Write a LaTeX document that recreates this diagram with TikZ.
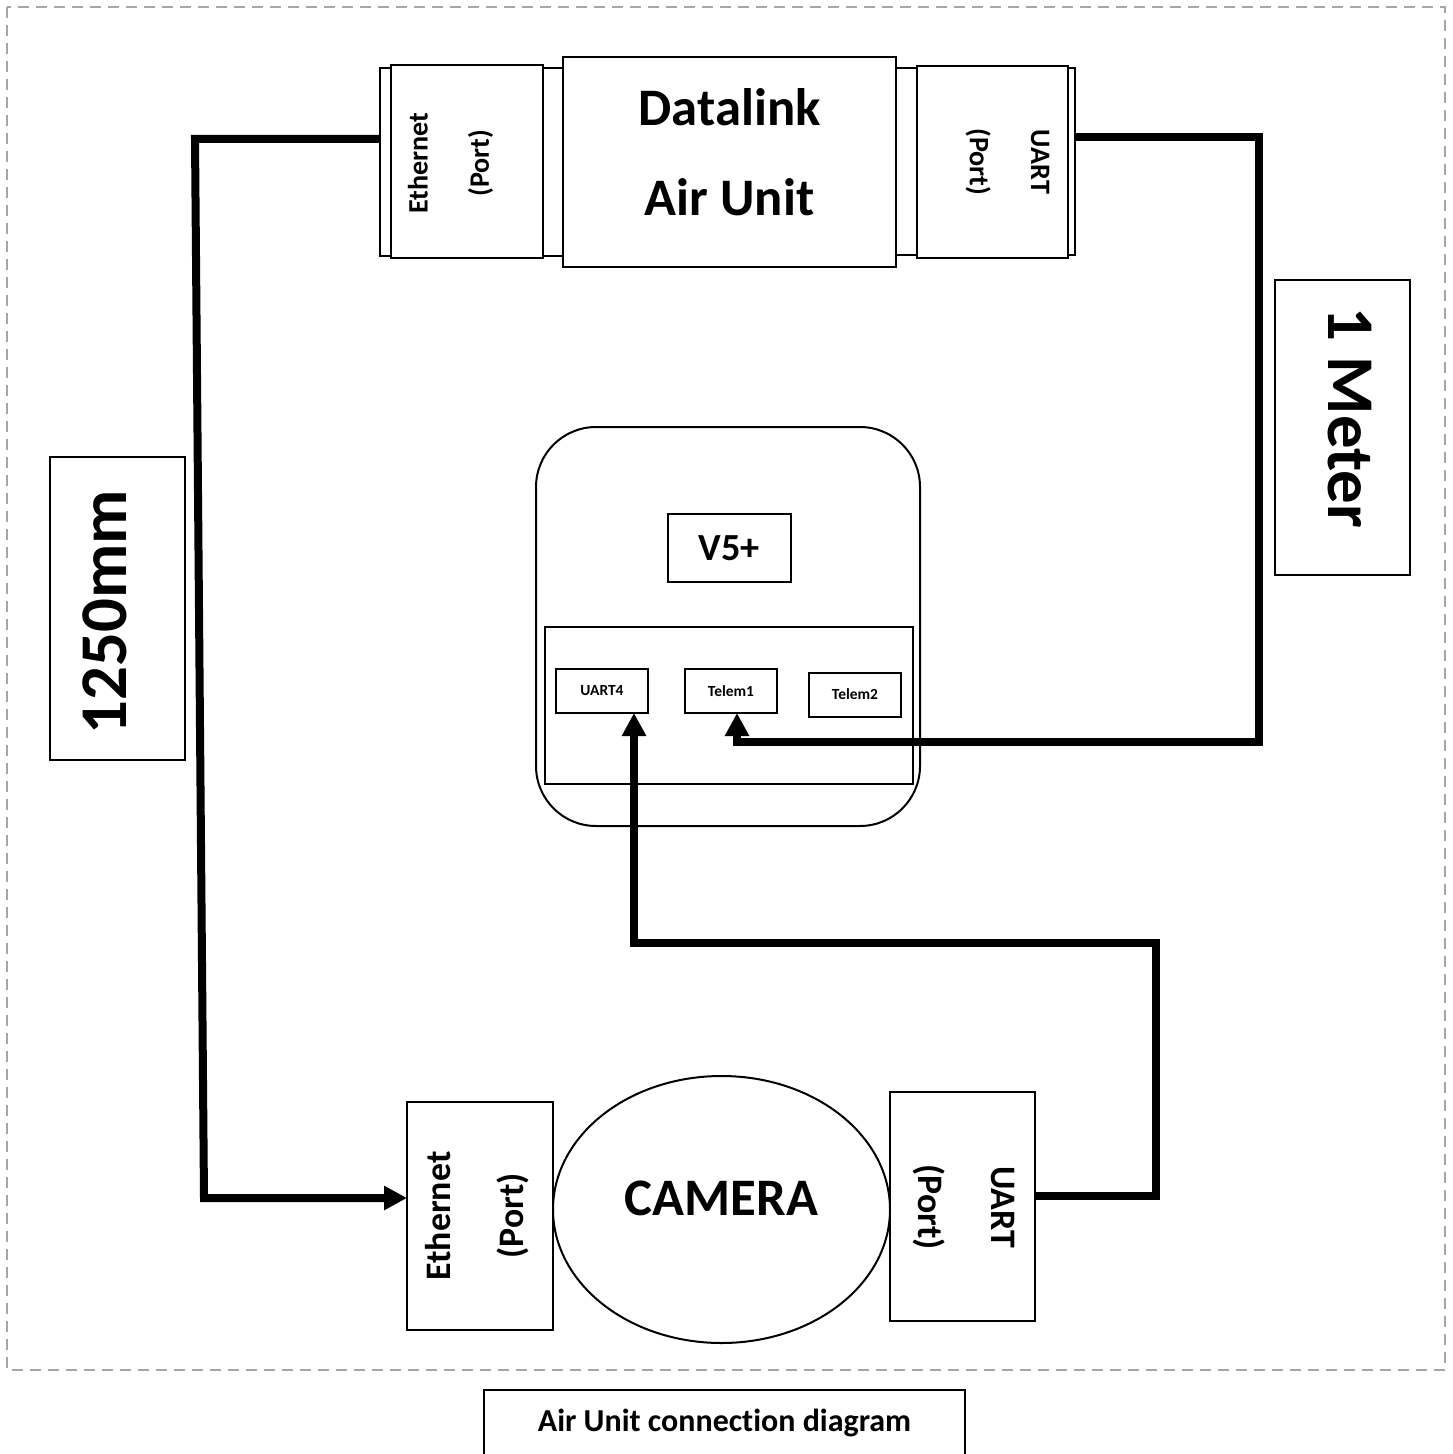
\documentclass[tikz,border=0pt]{standalone}
\usepackage{fontspec}
\setmainfont{Carlito}[Ligatures=NoCommon]
\usetikzlibrary{arrows.meta,positioning,shapes.geometric}

\begin{document}
\begin{tikzpicture}[
  x=0.1mm, y=-0.1mm, >={Triangle[length=2.3mm,width=2.3mm]},
  box/.style={draw, line width=0.2mm, fill=white, inner sep=0pt, outer sep=0pt},
  unitbox/.style={box, minimum width=33.3mm, minimum height=21mm},
  neckbox/.style={box},
  portbox/.style={box, minimum width=15.2mm},
  pinbox/.style={box, minimum width=9.2mm, minimum height=4.4mm, font=\bfseries\fontsize{4.4pt}{5pt}\selectfont},
  lenbox/.style={box, minimum width=13.5mm},
  wire/.style={line width=0.8mm, ->},
  frame/.style={draw=black!35, line width=0.2mm, dash pattern=on 1.1mm off 0.7mm},
  unittxt/.style={font=\bfseries\fontsize{15pt}{25.6pt}\selectfont, align=center, inner sep=0pt},
  porttxt/.style={font=\bfseries\fontsize{8pt}{17.4pt}\selectfont, align=center, inner sep=0pt},
  camtxt/.style={font=\bfseries\fontsize{10.2pt}{20.8pt}\selectfont, align=center, inner sep=0pt},
  lentxt/.style={font=\bfseries\fontsize{19pt}{22pt}\selectfont, inner sep=0pt},
]
\useasboundingbox (0,0) rectangle (1452,1454);
\draw[frame] (7,7) rectangle (1445,1370);

% ---------------- datalink air unit ----------------
\node[unitbox] (dl) at (729.5,162) {};
\node[unittxt] (dltxt) at (729.5,152) {Datalink\\Air Unit};
\node[neckbox, minimum width=18.3mm, minimum height=18.8mm, left=0mm of dl] (ethneck) {};
\node[portbox, minimum height=19.3mm, left=2mm of dl] (ethport) {};
\node[neckbox, minimum width=17.9mm, minimum height=18.7mm, right=0mm of dl] (uartneck) {};
\node[portbox, minimum width=15.1mm, minimum height=19.2mm, right=2.1mm of dl] (uartport) {};
\node[porttxt, rotate=90] (ethtxt) at (450.5,163) {Ethernet\\(Port)};
\node[porttxt, rotate=-90] (uarttxt) at (1007.5,162) {UART\\(Port)};

% ---------------- flight controller ----------------
\node[box, rounded corners=6mm, minimum width=38.4mm, minimum height=39.9mm] (fc) at (728,626.5) {};
\node[box, minimum width=12.3mm, minimum height=6.8mm, font=\bfseries\fontsize{10.9pt}{12pt}\selectfont] (v5) at (729.5,548) {V5+};
\node[box, minimum width=36.8mm, minimum height=15.7mm] (pins) at (729,705.5) {};
\node[pinbox] (uart4) at (602,691) {UART4};
\node[pinbox, right=3.7mm of uart4] (telem1) {Telem1};
\node[pinbox, right=3.2mm of telem1, yshift=-0.35mm] (telem2) {Telem2};

% ---------------- camera ----------------
\node[draw, ellipse, line width=0.2mm, minimum width=33.7mm, minimum height=26.7mm, inner sep=0pt, outer sep=0pt] (cam) at (721.5,1209.5) {};
\node[unittxt] (camlbl) at (721.5,1198) {CAMERA};
\node[portbox, minimum width=14.6mm, minimum height=22.8mm, left=0mm of cam, yshift=-0.65mm] (camethport) {};
\node[portbox, minimum width=14.5mm, minimum height=22.9mm, right=0mm of cam, yshift=0.3mm] (camuartport) {};
\node[camtxt, rotate=90] (camethtxt) at (477.5,1216) {Ethernet\\(Port)};
\node[camtxt, rotate=-90] (camuarttxt) at (963.5,1207) {UART\\(Port)};

% ---------------- cable lengths ----------------
\node[lenbox, minimum height=30.3mm] (len1) at (117.5,608.5) {};
\node[lentxt, rotate=90] (len1txt) at (105,612) {1250mm};
\node[lenbox, minimum height=29.5mm] (len2) at (1342.5,427.5) {};
\node[lentxt, rotate=-90] (len2txt) at (1350,418) {1 Meter};

% ---------------- cables ----------------
\coordinate (lw1) at (195,139);
\coordinate (lw2) at (204,1198);
\draw[wire] (ethneck.west |- lw1) -- (lw1) -- (lw2) -- (camethport.west |- lw2);
\coordinate (rw1) at (1259,137.5);
\coordinate (rw2) at (1259,742);
\coordinate (rw3) at (737,742);
\draw[wire] (uartneck.east |- rw1) -- (rw1) -- (rw2) -- (rw3) -- (rw3 |- telem1.south);
\coordinate (cw1) at (1156,1195.5);
\coordinate (cw2) at (1156,942.5);
\coordinate (cw3) at (634,942.5);
\draw[wire] (camuartport.east |- cw1) -- (cw1) -- (cw2) -- (cw3) -- (cw3 |- uart4.south);

% ---------------- caption ----------------
\node[box, anchor=north, minimum width=48.1mm, inner ysep=1.9mm, font=\bfseries\fontsize{9.1pt}{11pt}\selectfont] (caption) at (724.5,1390) {Air Unit connection diagram};
\end{tikzpicture}
\end{document}
